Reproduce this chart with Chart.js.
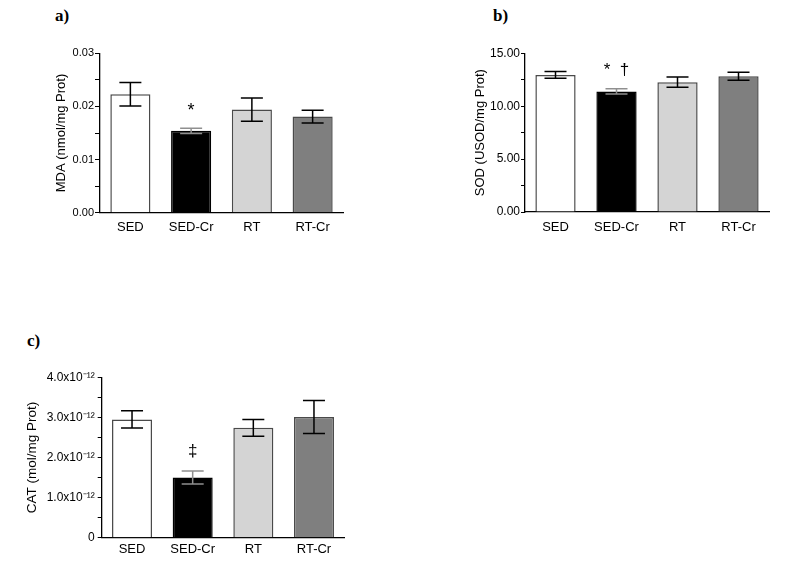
<!DOCTYPE html>
<html><head><meta charset="utf-8">
<script src="https://cdn.jsdelivr.net/npm/chart.js@4.4.1/dist/chart.umd.min.js"></script>
<style>
html,body{margin:0;padding:0;background:#fff;width:809px;height:572px;overflow:hidden;position:relative}
canvas{position:absolute}
.lab{position:absolute;font:bold 17px "Liberation Serif",serif;line-height:17px;color:#000}
</style></head><body>
<div class="lab" style="left:55px;top:7px">a)</div>
<div class="lab" style="left:493px;top:7px">b)</div>
<div class="lab" style="left:27px;top:332px">c)</div>
<canvas id="ca" width="400" height="250" style="left:0px;top:0px;width:400px;height:250px"></canvas>
<canvas id="cb" width="369" height="250" style="left:440px;top:0px;width:369px;height:250px"></canvas>
<canvas id="cc" width="400" height="252" style="left:0px;top:320px;width:400px;height:252px"></canvas>
<script>
// ---- data ----
const categories = ['SED', 'SED-Cr', 'RT', 'RT-Cr'];

const mdaMean = [0.0223, 0.0154, 0.0194, 0.0181];
const mdaErr  = [0.0022, 0.0005, 0.0022, 0.0012];
const mdaMarks = ['', '*', '', ''];
const mdaTickLabels = ['0.00', '0.01', '0.02', '0.03'];

const sodMean = [12.96, 11.40, 12.27, 12.83];
const sodErr  = [0.33, 0.24, 0.49, 0.38];
const sodMarks = ['', '*  \u2020', '', ''];
const sodTickLabels = ['0.00', '5.00', '10.00', '15.00'];

const catMean = [2.95e-12, 1.50e-12, 2.74e-12, 3.01e-12];
const catErr  = [0.216e-12, 0.162e-12, 0.21e-12, 0.41e-12];
const catMarks = ['', '\u2021', '', ''];
const catTickLabels = ['0', '1.0x10\u207B\u00B9\u00B2', '2.0x10\u207B\u00B9\u00B2', '3.0x10\u207B\u00B9\u00B2', '4.0x10\u207B\u00B9\u00B2'];

// ---- styles ----
const FONT = '"Liberation Sans", Arial, sans-serif';
const barColors = ['#ffffff', '#000000', '#d4d4d4', '#7f7f7f'];
const barBorders = ['#4a4a4a', '#000000', '#4a4a4a', '#4a4a4a'];
const errColors = ['#000000', '#8f8f8f', '#000000', '#000000'];

function errPlugin(errors, marks, markFont, markGap) {
  return {
    id: 'errbars',
    afterDatasetsDraw(chart) {
      const ctx = chart.ctx, ys = chart.scales.y;
      const meta = chart.getDatasetMeta(0);
      const vals = chart.data.datasets[0].data;
      ctx.save();
      meta.data.forEach((bar, i) => {
        const v = vals[i], e = errors[i];
        const yt = ys.getPixelForValue(v + e), yb = ys.getPixelForValue(v - e);
        const cap = 11;
        ctx.strokeStyle = errColors[i];
        ctx.lineWidth = 1.5;
        ctx.beginPath();
        ctx.moveTo(bar.x, yt); ctx.lineTo(bar.x, yb);
        ctx.moveTo(bar.x - cap, yt); ctx.lineTo(bar.x + cap, yt);
        ctx.moveTo(bar.x - cap, yb); ctx.lineTo(bar.x + cap, yb);
        ctx.stroke();
        if (marks[i]) {
          ctx.fillStyle = '#000';
          ctx.font = markFont;
          ctx.textAlign = 'center';
          ctx.textBaseline = 'alphabetic';
          ctx.fillText(marks[i], bar.x, yt - markGap);
        }
      });
      ctx.restore();
    }
  };
}

function makePanel(id, c) {
  return new Chart(document.getElementById(id), {
    type: 'bar',
    data: {
      labels: categories,
      datasets: [{
        data: c.values,
        backgroundColor: barColors,
        borderColor: barBorders,
        borderWidth: 1.5,
        barPercentage: 0.66,
        categoryPercentage: 1
      }]
    },
    options: {
      responsive: false,
      animation: false,
      devicePixelRatio: 1,
      events: [],
      layout: { padding: c.padding },
      plugins: { legend: { display: false }, tooltip: { enabled: false }, title: { display: false } },
      scales: {
        x: {
          grid: { display: false, drawTicks: false },
          border: { display: true, color: '#000', width: 1.3 },
          ticks: { color: '#000', font: { family: FONT, size: 13 }, padding: c.xPad, maxRotation: 0, autoSkip: false },
          afterFit(s) { s.height = 30; }
        },
        y: {
          min: 0, max: c.max,
          grid: { display: true, drawOnChartArea: false, drawTicks: true, tickLength: c.tickLen, color: '#000', lineWidth: 1 },
          border: { display: true, color: '#000', width: 1.3 },
          ticks: {
            stepSize: c.step, autoSkip: false, color: '#000',
            font: { family: FONT, size: c.tickSize }, padding: c.tickPad,
            callback: (v, i) => (i % 2 === 0 ? c.tickLabels[i / 2] : '')
          },
          title: { display: true, text: c.title, color: '#000', font: { family: FONT, size: c.titleSize }, padding: { top: 0, bottom: 0 } },
          afterFit(s) { s.width = c.axisW; }
        }
      }
    },
    plugins: [errPlugin(c.errors, c.marks, c.markFont, c.markGap)]
  });
}

makePanel('ca', {
  values: mdaMean, errors: mdaErr, marks: mdaMarks, tickLabels: mdaTickLabels,
  max: 0.03, step: 0.005, title: 'MDA (nmol/mg Prot)',
  padding: { left: 54, top: 53.3, right: 57, bottom: 7.3 }, axisW: 46,
  tickLen: 5, tickPad: 1, tickSize: 11, titleSize: 13, xPad: 7,
  markFont: '18px ' + FONT, markGap: 12
});

makePanel('cb', {
  values: sodMean, errors: sodErr, marks: sodMarks, tickLabels: sodTickLabels,
  max: 15, step: 2.5, title: 'SOD (USOD/mg Prot)',
  padding: { left: 32.2, top: 53.3, right: 40, bottom: 8 }, axisW: 52.8,
  tickLen: 4, tickPad: 1, tickSize: 12, titleSize: 13, xPad: 8,
  markFont: '17px ' + FONT, markGap: 14
});

makePanel('cc', {
  values: catMean, errors: catErr, marks: catMarks, tickLabels: catTickLabels,
  max: 4e-12, step: 0.5e-12, title: 'CAT (mol/mg Prot)',
  padding: { left: 24.4, top: 57.3, right: 55.7, bottom: 4.3 }, axisW: 77.3,
  tickLen: 4, tickPad: 3, tickSize: 12, titleSize: 13.5, xPad: 4,
  markFont: '17px ' + FONT, markGap: 15
});
</script>
</body></html>
